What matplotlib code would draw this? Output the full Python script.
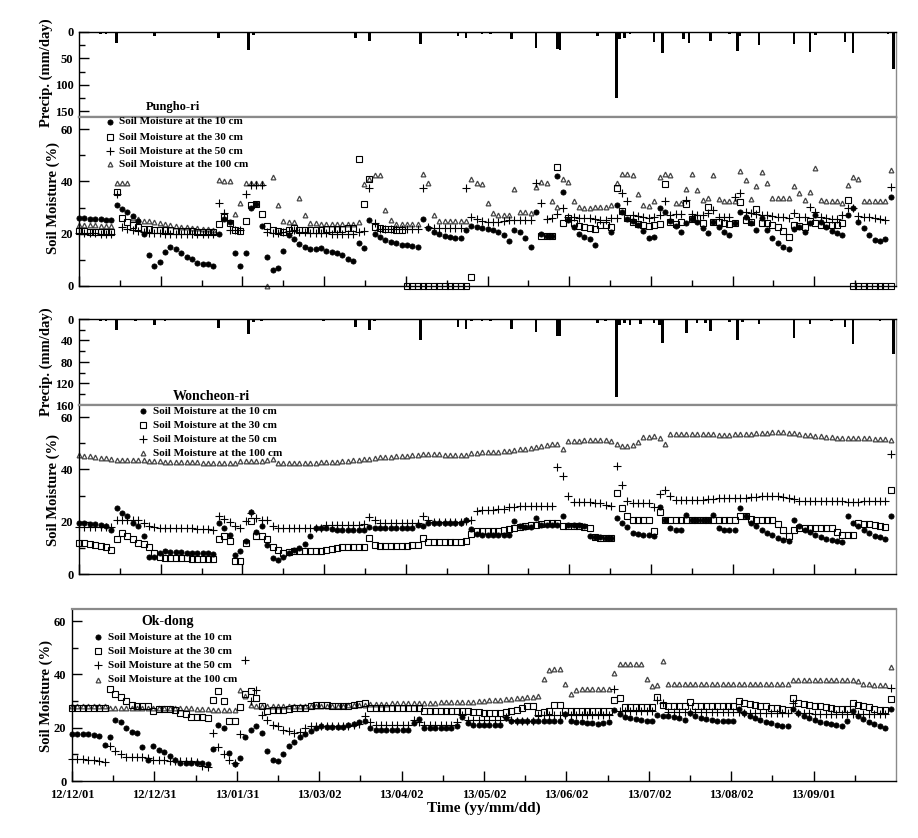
import numpy as np
import matplotlib
matplotlib.use('Agg')
import matplotlib.pyplot as plt
from matplotlib.lines import Line2D

nan = np.nan

# ---------------- data (every 2nd day from 2012-12-01) ----------------
tick_labels = ['12/12/01', '12/12/31', '13/01/31', '13/03/02', '13/04/02',
               '13/05/02', '13/06/02', '13/07/02', '13/08/02', '13/09/01']
sites = ['Pungho-ri', 'Woncheon-ri', 'Ok-dong']
depth_labels = ['Soil Moisture at the 10 cm', 'Soil Moisture at the 30 cm',
                'Soil Moisture at the 50 cm', 'Soil Moisture at the 100 cm']

# precipitation (day index, mm/day)
p_precip_day = [8, 10, 14, 21, 28, 32, 52, 63, 65, 91, 103, 108, 110, 127, 135, 141, 144, 146, 150, 153,
                161, 170, 178, 179, 193, 196, 200, 201, 203, 205, 214, 217, 225, 227, 235, 242, 245, 246,
                253, 266, 272, 274, 280, 285, 288, 301, 303]
p_precip_mm = [3, 3, 21, 2, 7, 2, 11, 35, 5, 2, 11, 17, 2, 22, 2, 8, 11, 2, 3, 3,
               13, 30, 32, 34, 8, 2, 125, 13, 11, 3, 19, 40, 13, 21, 17, 3, 36, 8,
               25, 22, 38, 6, 2, 19, 40, 3, 70]
w_precip_day = [8, 10, 14, 21, 28, 32, 52, 63, 65, 68, 91, 97, 103, 108, 110, 121, 127, 135, 141, 144,
                146, 150, 153, 161, 170, 178, 179, 193, 196, 200, 201, 203, 205, 209, 214, 216, 217,
                226, 230, 233, 235, 242, 245, 247, 253, 266, 272, 280, 285, 288, 298, 303]
w_precip_mm = [4, 4, 21, 4, 12, 4, 17, 28, 6, 4, 4, 2, 15, 21, 4, 2, 40, 2, 14, 19,
               4, 4, 4, 19, 25, 31, 32, 7, 4, 146, 12, 7, 12, 10, 7, 12, 45,
               26, 7, 7, 23, 6, 40, 6, 9, 35, 10, 4, 15, 46, 4, 65]

p10 = [26.0, 25.9, 25.8, 25.7, 25.5, 25.4, 25.2, 31.0, 29.5, 28.2,
       26.8, 25.0, 20.0, 12.0, 7.5, 9.0, 13.0, 15.0, 14.2, 12.5,
       11.2, 10.2, 8.8, 8.6, 8.5, 7.8, 20.0, 25.8, 24.5, 12.5,
       7.8, 12.5, 30.0, 31.5, 23.0, 11.0, 6.0, 7.0, 13.5, 19.5,
       18.0, 16.0, 14.8, 14.0, 14.3, 14.4, 13.5, 13.1, 12.5, 11.8,
       10.5, 9.7, 16.3, 14.5, 25.2, 20.0, 18.8, 17.6, 17.0, 16.3,
       15.7, 15.7, 15.2, 14.8, 25.5, 22.0, 20.5, 20.0, 19.2, 18.8,
       18.3, 18.5, 21.5, 22.8, 22.5, 22.2, 21.8, 21.5, 20.5, 19.5,
       17.3, 21.5, 20.8, 18.5, 15.0, 28.4, 20.0, 19.0, 19.0, 42.0,
       36.0, 25.2, 22.5, 20.0, 18.6, 17.8, 15.5, nan, nan, 20.8,
       31.0, 28.4, 25.5, 24.8, 23.5, 21.0, 18.5, 18.9, 30.0, 28.4,
       25.0, 23.0, 20.8, 24.0, 25.5, 24.6, 22.0, 20.1, 24.6, 22.7,
       20.8, 19.5, 24.0, 28.4, 26.5, 24.0, 21.4, 25.9, 21.4, 18.5,
       16.5, 15.0, 14.2, 21.7, 22.7, 20.5, 24.0, 27.2, 24.6, 22.5,
       21.2, 20.3, 19.5, 27.0, 30.0, 24.6, 22.0, 19.5, 17.6, 17.3,
       17.8, 34.0]
p30 = [21.0, 21.0, 20.8, 20.8, 20.8, 20.7, 20.7, 35.8, 26.0, 24.5,
       23.5, 22.5, 21.7, 21.7, 21.5, 21.5, 21.5, 21.3, 21.2, 21.2,
       21.0, 21.0, 20.8, 20.8, 20.6, 20.5, 23.7, 26.5, 24.0, 21.4,
       21.0, 25.0, 31.0, 31.3, 27.5, 23.0, 21.4, 21.0, 20.8, 21.5,
       22.0, 21.4, 21.4, 21.4, 21.4, 21.5, 21.6, 21.7, 21.8, 21.8,
       22.0, 22.0, 48.4, 31.3, 40.9, 22.5, 22.0, 21.8, 21.6, 21.5,
       21.4, 0.0, 0.0, 0.0, 0.0, 0.0, 0.0, 0.0, 0.0, 0.0,
       0.0, 0.0, 0.0, 3.6, nan, nan, nan, nan, nan, nan,
       nan, nan, nan, nan, nan, nan, 19.0, 19.0, 19.2, 45.6,
       24.2, 25.9, 24.0, 23.0, 22.4, 22.0, 21.7, 23.3, 23.3, 22.4,
       37.3, 28.8, 25.9, 24.6, 23.7, 23.3, 23.0, 23.3, 23.7, 39.0,
       24.3, 23.7, 24.6, 31.4, 25.5, 25.9, 24.2, 30.3, 24.6, 24.4,
       24.2, 23.7, 24.2, 32.0, 25.2, 24.6, 29.3, 24.2, 24.0, 23.5,
       22.5, 21.0, 18.8, 23.3, 23.0, 22.6, 25.0, 24.0, 23.5, 23.3,
       23.3, 23.3, 24.0, 32.9, 0.0, 0.0, 0.0, 0.0, 0.0, 0.0,
       0.0, 0.0]
p50 = [20.1, 20.1, 20.1, 20.1, 20.0, 20.0, 20.0, 35.0, 22.7, 21.8,
       21.4, 21.0, 20.5, 20.2, 20.1, 20.1, 20.0, 20.0, 20.0, 20.0,
       20.0, 20.0, 20.0, 20.0, 20.0, 20.0, 31.8, 27.8, 21.4, 21.4,
       21.4, 35.0, 38.6, 38.6, 38.6, 20.5, 20.3, 20.3, 20.5, 21.0,
       21.4, 20.8, 20.5, 20.3, 20.2, 20.1, 20.1, 20.0, 20.0, 20.0,
       20.0, 20.0, 20.5, 21.0, 37.3, 24.0, 21.7, 21.7, 21.7, 21.7,
       21.7, 21.7, 21.7, 21.7, 37.3, 22.5, 22.3, 22.3, 22.3, 22.3,
       22.3, 22.3, 37.6, 26.5, 25.5, 24.9, 24.5, 24.3, 24.6, 25.0,
       25.2, 25.2, 25.2, 25.2, 25.2, 39.3, 31.9, 25.5, 25.9, 27.5,
       29.7, 26.5, 26.3, 26.0, 25.9, 25.9, 25.5, 25.3, 25.2, 25.9,
       26.0, 35.7, 32.3, 27.0, 26.7, 26.5, 25.9, 26.5, 27.2, 32.3,
       27.2, 27.5, 27.7, 32.9, 27.5, 27.3, 27.2, 27.8, 29.0, 26.5,
       26.5, 26.5, 34.2, 35.7, 28.4, 27.8, 27.5, 27.2, 27.0, 26.8,
       26.5, 26.3, 26.0, 27.8, 26.5, 26.5, 30.3, 28.4, 26.5, 25.9,
       25.7, 25.5, 27.0, 29.7, 29.7, 26.8, 26.5, 26.2, 25.9, 25.5,
       25.2, 38.0]
p100 = [23.3, 23.3, 23.2, 23.2, 23.0, 23.0, 23.0, 39.5, 39.2, 39.2,
        25.9, 25.5, 25.0, 24.7, 24.4, 24.0, 23.7, 23.4, 23.0, 22.7,
        22.4, 22.2, 22.0, 21.8, 21.6, 21.4, 40.5, 40.0, 40.0, 27.4,
        31.6, 39.5, 39.5, 39.5, 39.5, 0.0, 41.8, 31.0, 24.8, 24.6,
        24.5, 33.5, 27.0, 24.2, 23.9, 23.7, 23.7, 23.7, 23.7, 23.7,
        23.7, 23.8, 24.6, 39.0, 40.9, 42.5, 42.5, 29.0, 25.2, 23.7,
        23.7, 23.7, 23.7, 23.7, 42.8, 39.5, 27.1, 25.0, 25.0, 25.0,
        25.0, 25.0, 25.0, 40.8, 39.3, 39.0, 31.9, 27.8, 27.2, 27.2,
        27.2, 37.0, 28.4, 28.4, 28.0, 38.0, 39.9, 39.3, 32.3, 30.3,
        40.8, 39.9, 32.3, 30.3, 30.0, 30.0, 30.2, 30.3, 30.3, 31.0,
        39.3, 43.0, 42.8, 42.6, 35.2, 31.0, 30.6, 32.6, 41.8, 43.0,
        42.4, 31.9, 31.9, 37.0, 43.0, 36.7, 32.9, 33.5, 42.4, 33.1,
        32.3, 32.3, 32.3, 44.1, 40.5, 33.1, 38.2, 43.7, 39.3, 33.5,
        33.5, 33.5, 33.5, 38.2, 35.4, 33.0, 36.0, 45.0, 32.9, 32.5,
        32.4, 32.3, 31.9, 38.6, 41.8, 40.8, 32.3, 32.3, 32.3, 32.3,
        32.3, 44.4]

w10 = [19.5, 19.4, 19.2, 19.0, 18.8, 18.5, 17.0, 25.2, 23.3, 22.0,
       19.5, 18.5, 14.7, 6.5, 6.5, 8.0, 8.9, 8.5, 8.3, 8.3,
       8.2, 8.0, 8.0, 8.0, 8.0, 7.8, 19.5, 17.5, 15.0, 7.4,
       8.7, 12.5, 23.6, 15.9, 18.2, 11.0, 6.1, 5.5, 6.5, 8.0,
       9.3, 9.9, 11.5, 14.5, 17.5, 17.6, 17.4, 17.2, 17.0, 17.0,
       17.0, 17.0, 17.0, 17.0, 18.0, 17.6, 17.6, 17.6, 17.6, 17.6,
       17.6, 17.6, 17.6, 18.9, 18.2, 19.5, 19.5, 19.5, 19.5, 19.5,
       19.5, 19.5, 20.8, 17.2, 15.2, 15.0, 15.0, 14.8, 14.8, 15.0,
       15.0, 20.1, 18.2, 18.0, 17.8, 21.4, 18.9, 18.9, 18.9, 18.9,
       22.0, 18.9, 18.8, 18.6, 18.4, 14.4, 14.2, 14.0, 13.8, 13.8,
       21.4, 19.5, 18.0, 15.5, 15.2, 15.0, 14.8, 14.5, 25.6, 20.8,
       17.5, 17.0, 16.8, 22.7, 20.8, 20.8, 20.8, 20.5, 22.7, 17.5,
       17.0, 17.0, 16.8, 25.2, 22.0, 19.5, 18.5, 17.0, 15.8, 14.8,
       13.8, 13.0, 12.5, 20.8, 18.5, 17.0, 16.0, 15.0, 14.0, 13.5,
       13.0, 12.5, 12.2, 22.0, 19.5, 18.5, 17.0, 15.8, 14.7, 14.0,
       13.5, 22.0]
w30 = [11.9, 11.7, 11.4, 11.0, 10.8, 10.5, 9.3, 13.4, 15.7, 14.4,
       13.4, 12.0, 11.5, 10.3, 8.0, 6.5, 6.3, 6.2, 6.1, 6.0,
       6.0, 5.9, 5.8, 5.8, 5.8, 5.7, 13.4, 14.5, 12.5, 4.8,
       4.8, 11.9, 20.1, 14.4, 14.4, 13.5, 10.5, 9.0, 8.0, 8.5,
       8.7, 8.7, 8.7, 8.7, 8.7, 8.7, 9.3, 9.5, 10.0, 10.3,
       10.3, 10.3, 10.5, 10.5, 13.8, 11.2, 10.8, 10.8, 10.8, 10.8,
       10.8, 10.8, 10.9, 11.0, 13.8, 12.1, 12.1, 12.1, 12.1, 12.2,
       12.2, 12.3, 12.5, 15.4, 16.3, 16.3, 16.3, 16.4, 16.5, 16.8,
       17.2, 17.6, 17.8, 18.2, 18.6, 18.9, 19.3, 19.5, 19.5, 19.5,
       18.2, 18.2, 18.2, 18.2, 18.0, 17.5, 14.0, 13.8, 13.8, 13.8,
       31.0, 25.2, 22.0, 20.8, 20.8, 20.8, 20.6, 16.3, 23.6, 20.8,
       20.8, 20.8, 20.8, 20.8, 20.8, 20.8, 20.8, 20.8, 20.8, 20.8,
       20.8, 20.8, 20.8, 22.3, 22.0, 21.0, 20.8, 20.8, 20.8, 20.8,
       19.0, 17.0, 14.4, 17.0, 17.6, 17.6, 17.6, 17.6, 17.6, 17.6,
       17.6, 16.0, 15.0, 15.0, 15.0, 19.5, 19.3, 19.0, 18.7, 18.3,
       18.0, 32.0]
w50 = [18.0, 18.0, 18.0, 18.0, 18.0, 18.0, 18.0, 20.8, 20.8, 20.8,
       20.8, 20.6, 19.5, 18.5, 17.8, 17.7, 17.6, 17.6, 17.6, 17.6,
       17.5, 17.4, 17.3, 17.2, 17.1, 17.0, 22.0, 21.2, 19.8, 18.5,
       17.6, 20.4, 23.3, 21.4, 20.8, 20.8, 18.2, 17.6, 17.6, 17.6,
       17.6, 17.6, 17.6, 17.6, 17.6, 17.6, 18.9, 18.9, 18.9, 18.9,
       18.9, 18.9, 18.9, 19.0, 21.7, 20.5, 19.5, 19.5, 19.5, 19.5,
       19.5, 19.5, 19.5, 19.5, 22.0, 20.8, 19.8, 19.8, 19.8, 19.8,
       19.8, 19.8, 20.2, 20.8, 24.0, 24.4, 24.6, 24.6, 24.8, 25.0,
       25.5, 25.7, 25.9, 25.9, 25.9, 25.9, 25.9, 26.0, 26.1, 40.9,
       37.6, 29.7, 27.6, 27.4, 27.4, 27.4, 27.3, 27.0, 26.5, 25.9,
       41.2, 34.2, 28.0, 27.2, 27.2, 27.2, 27.0, 25.6, 30.7, 32.2,
       29.7, 28.2, 28.2, 28.2, 28.2, 28.2, 28.4, 28.6, 28.8, 29.0,
       29.0, 29.0, 29.0, 29.0, 29.2, 29.4, 29.6, 29.7, 29.7, 29.7,
       29.7, 29.5, 29.0, 28.5, 28.0, 27.8, 27.8, 27.8, 27.8, 27.8,
       27.8, 27.8, 27.8, 27.6, 27.6, 27.7, 27.8, 27.8, 27.8, 27.8,
       28.0, 45.9]
w100 = [45.4, 45.2, 45.0, 44.8, 44.4, 44.2, 43.9, 43.7, 43.7, 43.6,
        43.5, 43.5, 43.4, 43.3, 43.2, 43.1, 43.0, 43.0, 42.9, 42.9,
        42.8, 42.8, 42.7, 42.6, 42.5, 42.5, 42.4, 42.4, 42.4, 42.6,
        43.3, 43.3, 43.3, 43.3, 43.3, 43.6, 44.0, 42.6, 42.4, 42.4,
        42.4, 42.4, 42.4, 42.5, 42.6, 42.7, 42.8, 42.9, 43.0, 43.1,
        43.3, 43.5, 43.7, 43.9, 44.0, 44.4, 44.7, 44.8, 44.9, 45.0,
        45.0, 45.2, 45.4, 45.6, 45.8, 45.9, 45.8, 45.7, 45.6, 45.5,
        45.5, 45.4, 45.4, 46.3, 46.4, 46.5, 46.6, 46.7, 46.8, 46.9,
        47.1, 47.4, 47.6, 47.9, 48.1, 48.4, 48.8, 49.2, 49.6, 49.8,
        47.8, 50.7, 50.9, 51.0, 51.1, 51.1, 51.1, 51.1, 51.1, 51.0,
        49.8, 48.8, 48.8, 49.3, 50.6, 52.4, 52.5, 52.6, 52.0, 49.8,
        53.7, 53.7, 53.6, 53.6, 53.5, 53.5, 53.5, 53.4, 53.4, 53.3,
        53.3, 53.3, 53.4, 53.5, 53.6, 53.7, 53.8, 53.9, 54.0, 54.2,
        54.2, 54.1, 54.0, 53.8, 53.5, 53.3, 53.1, 52.8, 52.6, 52.4,
        52.2, 52.0, 52.0, 52.0, 52.0, 52.0, 51.9, 51.8, 51.7, 51.6,
        51.5, 51.4]

o10 = [17.7, 17.7, 17.6, 17.5, 17.3, 16.8, 13.6, 16.7, 23.0, 22.0,
       19.9, 18.5, 18.0, 12.7, 7.9, 13.0, 11.7, 10.8, 9.5, 8.0,
       6.8, 6.7, 6.7, 6.6, 6.6, 6.5, 12.0, 21.1, 19.9, 10.7,
       6.2, 8.6, 16.5, 19.2, 20.5, 18.0, 11.3, 7.9, 7.5, 10.0,
       13.0, 14.8, 16.7, 17.6, 18.6, 20.0, 20.8, 20.3, 20.3, 20.3,
       20.3, 21.0, 21.5, 22.0, 22.4, 20.0, 19.0, 19.0, 19.0, 19.0,
       19.0, 19.0, 19.0, 21.8, 23.3, 19.9, 19.9, 19.9, 19.9, 19.9,
       19.9, 20.5, 24.0, 21.8, 21.1, 21.1, 21.1, 21.1, 21.1, 21.1,
       23.6, 22.4, 22.4, 22.4, 22.4, 22.4, 22.4, 22.4, 22.4, 22.4,
       22.5, 25.3, 22.5, 22.2, 22.0, 21.8, 21.7, 21.5, 21.6, 22.0,
       26.8, 25.2, 24.0, 23.6, 23.2, 22.8, 22.6, 22.4, 24.9, 24.5,
       24.3, 24.0, 23.5, 23.0, 25.5, 24.3, 23.8, 23.3, 22.9, 22.6,
       22.5, 22.4, 22.4, 27.0, 25.5, 24.6, 23.8, 23.0, 22.3, 21.6,
       21.2, 20.8, 20.5, 27.0, 25.5, 24.6, 23.8, 23.0, 22.3, 21.8,
       21.4, 21.0, 20.8, 22.4, 26.2, 24.3, 23.3, 22.3, 21.3, 20.5,
       19.9, 27.0]
o30 = [27.4, 27.4, 27.4, 27.4, 27.4, 27.4, 27.4, 34.6, 32.8, 31.6,
       29.9, 28.5, 28.0, 28.0, 28.0, 26.2, 27.0, 27.0, 27.0, 26.5,
       25.5, 25.0, 23.9, 23.9, 23.9, 23.5, 30.6, 33.7, 30.2, 22.6,
       22.4, 27.8, 32.8, 33.7, 31.2, 28.0, 26.2, 26.5, 26.5, 26.5,
       27.0, 27.4, 27.4, 27.4, 28.0, 28.7, 28.7, 28.7, 28.3, 28.0,
       28.0, 28.3, 28.7, 29.0, 29.3, 27.4, 27.4, 27.4, 27.4, 27.4,
       27.4, 27.4, 27.4, 27.4, 27.4, 26.2, 26.2, 26.2, 26.2, 26.2,
       26.2, 26.2, 26.2, 26.2, 26.0, 25.8, 25.6, 25.5, 25.5, 25.5,
       25.8, 26.2, 26.8, 27.5, 28.0, 28.3, 25.5, 25.8, 26.2, 28.7,
       28.7, 26.2, 26.2, 26.2, 26.2, 26.2, 26.2, 26.2, 26.2, 26.2,
       30.6, 31.2, 27.8, 27.8, 27.8, 27.8, 27.8, 27.8, 31.6, 28.7,
       28.0, 28.0, 28.0, 28.0, 29.6, 28.0, 28.0, 28.0, 28.0, 28.0,
       28.0, 28.0, 28.0, 29.9, 29.3, 29.0, 28.7, 28.3, 28.0, 27.6,
       27.3, 27.0, 26.8, 31.2, 29.3, 29.0, 28.6, 28.3, 28.0, 27.8,
       27.5, 27.2, 27.0, 27.0, 29.3, 28.7, 28.2, 27.7, 27.2, 26.8,
       26.5, 30.8]
o50 = [8.2, 8.2, 8.1, 8.0, 7.8, 7.5, 7.3, 13.2, 11.1, 10.0,
       9.2, 9.2, 9.2, 9.0, 8.5, 7.8, 7.7, 7.7, 7.6, 7.6,
       7.6, 7.5, 7.4, 7.3, 5.8, 5.4, 18.2, 12.6, 10.1, 8.0,
       6.9, 17.7, 45.4, 29.9, 34.1, 24.9, 23.0, 21.0, 20.5, 19.2,
       18.8, 18.2, 18.5, 20.0, 20.5, 20.5, 20.5, 20.8, 20.5, 20.5,
       20.5, 20.5, 21.0, 21.5, 24.3, 22.0, 21.1, 21.1, 21.1, 21.1,
       21.1, 21.1, 21.1, 22.8, 22.0, 21.1, 21.1, 21.1, 21.1, 21.1,
       21.1, 22.0, 24.9, 22.8, 22.8, 22.8, 22.8, 22.8, 22.8, 23.0,
       24.0, 22.8, 22.4, 22.4, 22.4, 22.4, 24.9, 24.9, 24.9, 24.9,
       24.9, 24.9, 24.9, 24.9, 24.9, 24.9, 24.9, 24.9, 24.9, 24.9,
       34.6, 26.2, 26.2, 26.2, 26.2, 26.2, 26.2, 26.2, 30.6, 29.3,
       26.0, 26.0, 26.0, 26.0, 26.0, 26.0, 26.0, 26.0, 26.0, 26.0,
       26.0, 26.0, 26.0, 25.8, 25.6, 25.5, 25.5, 25.5, 25.5, 25.5,
       25.5, 25.5, 25.5, 29.3, 25.5, 25.5, 25.4, 25.3, 25.2, 25.2,
       25.1, 25.0, 25.0, 25.0, 25.0, 25.0, 25.0, 25.0, 25.0, 25.0,
       25.0, 35.0]
o100 = [28.0, 28.0, 28.0, 28.0, 28.0, 28.0, 28.0, 27.6, 27.4, 27.4,
        27.4, 27.4, 27.4, 27.4, 27.4, 27.4, 27.4, 27.4, 27.4, 27.4,
        27.4, 27.4, 27.3, 27.2, 27.0, 26.9, 26.8, 26.8, 26.8, 26.8,
        26.8, 34.3, 32.0, 28.7, 28.3, 28.3, 28.3, 28.3, 28.3, 28.3,
        28.3, 28.3, 28.3, 28.3, 28.3, 28.3, 28.3, 28.3, 28.3, 28.3,
        28.3, 28.4, 28.5, 28.6, 28.7, 28.8, 28.9, 29.0, 29.1, 29.2,
        29.3, 29.3, 29.3, 29.3, 29.3, 29.3, 29.4, 29.4, 29.5, 29.5,
        29.5, 29.6, 29.7, 29.7, 29.8, 30.0, 30.1, 30.3, 30.4, 30.6,
        30.7, 30.9, 31.1, 31.3, 31.5, 31.6, 31.8, 38.4, 41.8, 42.1,
        42.1, 36.6, 32.8, 34.3, 34.4, 34.5, 34.6, 34.7, 34.7, 34.7,
        40.6, 43.8, 43.8, 43.8, 43.8, 43.8, 38.4, 35.8, 36.2, 45.0,
        36.5, 36.6, 36.6, 36.6, 36.6, 36.6, 36.6, 36.6, 36.6, 36.6,
        36.6, 36.6, 36.6, 36.6, 36.6, 36.6, 36.6, 36.6, 36.6, 36.6,
        36.6, 36.6, 36.6, 38.1, 37.9, 37.9, 37.9, 37.9, 37.9, 37.9,
        37.9, 37.9, 37.9, 37.9, 37.9, 37.5, 36.5, 36.3, 36.2, 36.2,
        36.2, 42.9]

days = np.arange(0, 304, 2)

# ---------------- figure ----------------
plt.rcParams['font.family'] = ['Liberation Serif', 'DejaVu Serif']
plt.rcParams['font.weight'] = 'bold'

W, H = 918, 838
fig = plt.figure(figsize=(W / 100, H / 100), dpi=100)


def rect(l, t, r, b):
    return [l / W, 1 - b / H, (r - l) / W, (b - t) / H]


XMAX = 304
major_x = np.arange(10) * 30.4
minor_x = major_x + 15.2
GRAY = '#8a8a8a'

styles = [
    dict(marker='o', ms=3.7, mfc='black', mec='black', mew=0.6),
    dict(marker='s', ms=3.7, mfc='none', mec='black', mew=0.8),
    dict(marker='+', ms=5.2, mfc='black', mec='black', mew=0.8),
    dict(marker='^', ms=3.4, mfc='none', mec='#444444', mew=0.9),
]


def style_common(ax):
    ax.spines['left'].set_color('black')
    ax.spines['right'].set_color(GRAY)
    for s in ['top', 'left', 'right', 'bottom']:
        ax.spines[s].set_linewidth(1.0)
    ax.tick_params(which='both', direction='in', top=False, right=False, width=1.0)
    ax.tick_params(which='major', length=7, labelsize=9, pad=4)
    ax.tick_params(which='minor', length=4)


def precip_axes(ax, d, mm, ymax, yt, ymt):
    ax.bar(d, mm, width=1.0, color='black', linewidth=0)
    ax.set_xlim(0, XMAX)
    ax.set_ylim(ymax, 0)
    ax.set_yticks(yt)
    ax.set_yticks(ymt, minor=True)
    ax.set_xticks([])
    style_common(ax)
    ax.spines['bottom'].set_color(GRAY)
    ax.spines['bottom'].set_linewidth(1.6)
    for lab in ax.get_yticklabels():
        lab.set_fontweight('bold')


def soil_axes(ax, series, show_labels):
    for vals, st in zip(series[::-1], styles[::-1]):
        ax.plot(days, vals, linestyle='none', clip_on=False, **st)
    ax.set_xlim(0, XMAX)
    ax.set_ylim(0, 64.6)
    ax.set_yticks([0, 20, 40, 60])
    ax.set_yticks([10, 30, 50], minor=True)
    ax.set_xticks(major_x)
    ax.set_xticks(minor_x, minor=True)
    style_common(ax)
    ax.spines['top'].set_color(GRAY)
    ax.spines['top'].set_linewidth(1.6)
    if show_labels:
        ax.set_xticklabels(tick_labels)
        ax.tick_params(axis='x', which='major', pad=6)
    else:
        ax.set_xticklabels([])
    for lab in ax.get_yticklabels() + ax.get_xticklabels():
        lab.set_fontweight('bold')


def legend_block(title, tcx, tcy, mx, tx, rows, tsize):
    fig.text(tcx / W, 1 - tcy / H, title, ha='center', va='center',
             fontsize=tsize, fontweight='bold')
    for lab, st, ry in zip(depth_labels, styles, rows):
        fig.add_artist(Line2D([mx / W], [1 - ry / H], transform=fig.transFigure,
                              linestyle='none', **st))
        fig.text(tx / W, 1 - ry / H, lab, ha='left', va='center',
                 fontsize=8, fontweight='bold')


# Pungho-ri
ax1 = fig.add_axes(rect(79, 32, 896, 117))
precip_axes(ax1, p_precip_day, p_precip_mm, 161, [0, 50, 100, 150], [25, 75, 125])
ax2 = fig.add_axes(rect(79, 117, 896, 286))
soil_axes(ax2, [p10, p30, p50, p100], False)

# Woncheon-ri
ax3 = fig.add_axes(rect(79, 319, 896, 405))
precip_axes(ax3, w_precip_day, w_precip_mm, 160, [0, 40, 80, 120, 160], [20, 60, 100, 140])
ax4 = fig.add_axes(rect(79, 405, 896, 574))
soil_axes(ax4, [w10, w30, w50, w100], False)

# Ok-dong
ax5 = fig.add_axes(rect(72, 609, 896, 781))
soil_axes(ax5, [o10, o30, o50, o100], True)

legend_block(sites[0], 173, 107, 110, 119, [122, 137, 151, 164], 9)
legend_block(sites[1], 211, 396, 143, 153, [411, 425, 439, 453], 10)
legend_block(sites[2], 168, 622, 98, 108, [637, 651, 665, 680], 10)


def ylab(x, y, s):
    fig.text(x / W, 1 - y / H, s, rotation=90, ha='center', va='center',
             fontsize=10.5, fontweight='bold')


ylab(46, 73, 'Precip. (mm/day)')
ylab(53, 198, 'Soil Moisture (%)')
ylab(46, 362, 'Precip. (mm/day)')
ylab(53, 490, 'Soil Moisture (%)')
ylab(46, 696, 'Soil Moisture (%)')
fig.text(484 / W, 1 - 808 / H, 'Time (yy/mm/dd)', ha='center', va='center',
         fontsize=11, fontweight='bold')

fig.savefig('out.png', dpi=100, facecolor='white')
